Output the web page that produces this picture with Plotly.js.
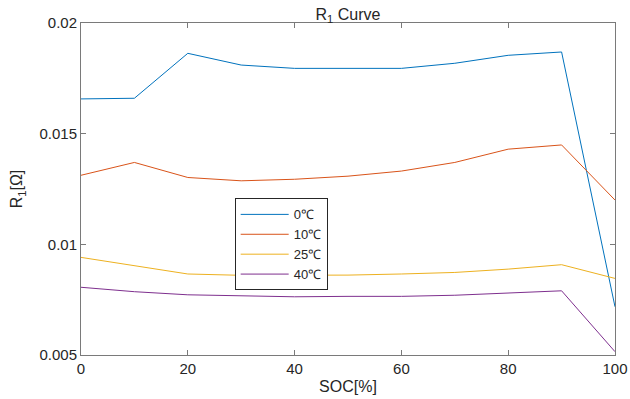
<!DOCTYPE html>
<html>
<head>
<meta charset="utf-8">
<script src="https://cdn.plot.ly/plotly-3.0.1.min.js"></script>
<style>html,body{margin:0;padding:0;background:#fff;}</style>
</head>
<body>
<div id="chart" style="width:630px;height:399px;"></div>
<script>
const soc = [0, 10, 20, 30, 40, 50, 60, 70, 80, 90, 100];
const r1_0C  = [0.01657, 0.0166, 0.01863, 0.0181, 0.01795, 0.01795, 0.01795, 0.01818, 0.01854, 0.01869, 0.00718];
const r1_10C = [0.01312, 0.0137, 0.01302, 0.01287, 0.01294, 0.01308, 0.01331, 0.0137, 0.0143, 0.01449, 0.0120];
const r1_25C = [0.00941, 0.00902, 0.00866, 0.0086, 0.0086, 0.00861, 0.00866, 0.00873, 0.00888, 0.00908, 0.00846];
const r1_40C = [0.00806, 0.00786, 0.00772, 0.00768, 0.00763, 0.00765, 0.00765, 0.0077, 0.0078, 0.0079, 0.00515];
const seriesNames = ['0℃', '10℃', '25℃', '40℃'];
const colors = ['#0072BD', '#D95319', '#EDB120', '#7E2F8E'];
const xTicks = [0, 20, 40, 60, 80, 100];
const yTicks = [0.005, 0.01, 0.015, 0.02];
const yTickText = ['0.005', '0.01', '0.015', '0.02'];

const ys = [r1_0C, r1_10C, r1_25C, r1_40C];
const traces = ys.map((y, i) => ({
  x: soc, y: y, type: 'scatter', mode: 'lines', name: seriesNames[i],
  line: {color: colors[i], width: 1}
}));

const font = {family: 'Liberation Sans, Arial, sans-serif', color: '#262626'};
const axisCommon = {
  showline: true, linecolor: '#7a7a7a', linewidth: 1, mirror: 'ticks',
  ticks: 'inside', ticklen: 5, tickcolor: '#7a7a7a', showgrid: false, zeroline: false,
  tickfont: Object.assign({size: 15}, font)
};
const layout = {
  width: 630, height: 399,
  margin: {l: 80.5, r: 15, t: 22.7, b: 44},
  paper_bgcolor: '#fff', plot_bgcolor: '#fff',
  font: font,
  title: {
    text: 'R<sub>1</sub> Curve', font: Object.assign({size: 16}, font),
    x: 0.5, xref: 'paper', y: 1, yref: 'paper', yanchor: 'bottom', pad: {b: 3}
  },
  xaxis: Object.assign({}, axisCommon, {
    range: [0, 100], tickvals: xTicks,
    title: {text: 'SOC[%]', font: Object.assign({size: 16}, font), standoff: 4}
  }),
  yaxis: Object.assign({}, axisCommon, {
    range: [0.005, 0.02], tickvals: yTicks, ticktext: yTickText,
    title: {text: 'R<sub>1</sub>[Ω]', font: Object.assign({size: 16}, font), standoff: 12}
  }),
  showlegend: true,
  legend: {
    x: 0.2878, y: 0.4716, xanchor: 'left', yanchor: 'top',
    bgcolor: '#fff', bordercolor: '#262626', borderwidth: 1,
    font: Object.assign({size: 13}, font), tracegroupgap: 0, itemwidth: 48
  }
};
Plotly.newPlot('chart', traces, layout, {displayModeBar: false, staticPlot: true});
</script>
</body>
</html>
